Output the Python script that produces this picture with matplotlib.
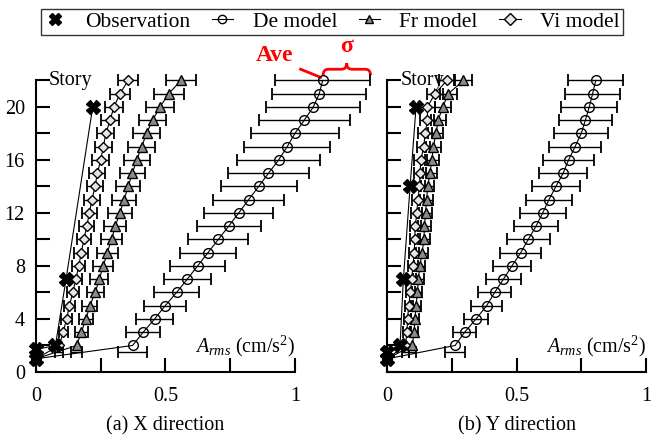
import numpy as np
import matplotlib
matplotlib.use("Agg")
from matplotlib import pyplot
from matplotlib.lines import Line2D
from matplotlib.path import Path
from matplotlib.patches import PathPatch

pyplot.rcParams['font.family'] = ['Liberation Serif', 'DejaVu Serif']
pyplot.rcParams['mathtext.fontset'] = 'custom'
pyplot.rcParams['mathtext.rm'] = 'Liberation Serif'
pyplot.rcParams['mathtext.it'] = 'Liberation Serif:italic'

# 階 (1..22) と標準偏差バーの位置 (2階分は1.5に描かれている)
stories = list(range(1, 23))
err_story = [1.5] + list(range(3, 23))

# (a) X方向
x_de = [0, 0.373, 0.414, 0.458, 0.499, 0.543, 0.584, 0.624, 0.664, 0.704, 0.744,
        0.783, 0.821, 0.860, 0.898, 0.937, 0.970, 1.000, 1.036, 1.071, 1.094, 1.107]
x_de_sd = [0.055, 0.066, 0.073, 0.081, 0.088, 0.091, 0.105, 0.108, 0.115, 0.124, 0.133,
           0.137, 0.147, 0.157, 0.159, 0.166, 0.169, 0.175, 0.182, 0.182, 0.183]
x_fr = [0, 0.157, 0.175, 0.193, 0.208, 0.229, 0.244, 0.260, 0.275, 0.292, 0.306,
        0.324, 0.340, 0.356, 0.372, 0.389, 0.408, 0.427, 0.450, 0.479, 0.512, 0.560]
x_fr_sd = [0.020, 0.024, 0.026, 0.029, 0.032, 0.035, 0.039, 0.040, 0.041, 0.043, 0.045,
           0.046, 0.047, 0.048, 0.050, 0.052, 0.053, 0.054, 0.055, 0.058, 0.059]
x_vi = [0, 0.090, 0.105, 0.118, 0.129, 0.142, 0.154, 0.165, 0.175, 0.185, 0.196,
        0.206, 0.216, 0.228, 0.237, 0.250, 0.260, 0.270, 0.286, 0.301, 0.324, 0.356]
x_vi_sd = [0.015, 0.018, 0.020, 0.022, 0.024, 0.025, 0.026, 0.027, 0.028, 0.029, 0.030,
           0.030, 0.031, 0.031, 0.032, 0.032, 0.033, 0.034, 0.036, 0.039, 0.038]
x_obs = [0, 0, 0.075, 0.116, 0.219]
x_obs_story = [1, 1.7, 2, 7, 20]

# (b) Y方向
y_de = [0, 0.262, 0.299, 0.343, 0.384, 0.415, 0.449, 0.482, 0.516, 0.545, 0.575,
        0.601, 0.625, 0.652, 0.680, 0.701, 0.726, 0.750, 0.766, 0.781, 0.794, 0.806]
y_de_sd = [0.039, 0.044, 0.047, 0.060, 0.063, 0.068, 0.073, 0.080, 0.084, 0.084, 0.089,
           0.088, 0.094, 0.094, 0.099, 0.099, 0.105, 0.103, 0.108, 0.108, 0.106]
y_fr = [0, 0.097, 0.103, 0.107, 0.111, 0.116, 0.120, 0.126, 0.134, 0.142, 0.143,
        0.148, 0.152, 0.156, 0.165, 0.172, 0.178, 0.188, 0.197, 0.214, 0.236, 0.294]
y_fr_sd = [0.015, 0.016, 0.017, 0.018, 0.019, 0.020, 0.021, 0.022, 0.023, 0.024, 0.024,
           0.025, 0.025, 0.026, 0.027, 0.028, 0.029, 0.030, 0.031, 0.033, 0.035]
y_vi = [0, 0.070, 0.076, 0.078, 0.083, 0.089, 0.094, 0.099, 0.104, 0.106, 0.108,
        0.114, 0.118, 0.124, 0.127, 0.129, 0.141, 0.146, 0.155, 0.155, 0.184, 0.230]
y_vi_sd = [0.013, 0.014, 0.015, 0.016, 0.017, 0.018, 0.019, 0.020, 0.020, 0.021, 0.021,
           0.022, 0.022, 0.023, 0.024, 0.025, 0.026, 0.027, 0.028, 0.030, 0.032]
y_obs = [0, 0, 0.049, 0.062, 0.088, 0.111]
y_obs_story = [1, 1.5, 2, 7, 14, 20]

panels = [
    ("(a) X direction", x_de, x_de_sd, x_fr, x_fr_sd, x_vi, x_vi_sd, x_obs, x_obs_story),
    ("(b) Y direction", y_de, y_de_sd, y_fr, y_fr_sd, y_vi, y_vi_sd, y_obs, y_obs_story),
]

fs = 14.5
fig = pyplot.figure(figsize=(6.51, 4.41), dpi=100)
ax_a = fig.add_axes([0.0553, 0.1565, 0.517, 0.679])
ax_b = fig.add_axes([0.595, 0.1565, 0.405, 0.679])
xmax = [1.3, 1.02]

styles = {
    "de": dict(marker="o", mfc="none", mec="black", ms=7),
    "fr": dict(marker="^", mfc="#8a8a8a", mec="black", ms=7.5),
    "vi": dict(marker="D", mfc="#e6e6e6", mec="black", ms=5.5),
}

for ax, xm, (caption, de, de_sd, fr, fr_sd, vi, vi_sd, obs, obs_st) in zip(
        [ax_a, ax_b], xmax, panels):
    for mean, sd, key in [(de, de_sd, "de"), (fr, fr_sd, "fr"), (vi, vi_sd, "vi")]:
        ax.errorbar(mean[1:], err_story, xerr=sd, fmt="none", ecolor="black",
                    elinewidth=1.0, capsize=4.5, capthick=1.3, clip_on=False, zorder=2)
        ax.plot(mean, stories, color="black", lw=0.8, mew=1.0, clip_on=False,
                zorder=3, **styles[key])
    ax.plot(obs, obs_st, color="black", lw=0.8, marker="X", ms=10, mfc="black",
            mec="black", clip_on=False, zorder=4)

    ax.set_xlim(0, xm)
    ax.set_ylim(0, 22.6)
    for s in ["top", "right"]:
        ax.spines[s].set_visible(False)
    ax.spines["left"].set_bounds(0, 22)
    ax.spines["bottom"].set_bounds(0, 1)
    ax.spines["left"].set_linewidth(1.5)
    ax.spines["bottom"].set_linewidth(1.5)
    ax.set_xticks([0, 0.5, 1], ["0", "0.5", "1"])
    ax.set_xticks([0.25, 0.75], minor=True)
    ax.set_yticks([0, 4, 8, 12, 16, 20])
    ax.set_yticks([2, 6, 10, 14, 18, 22], minor=True)
    ax.tick_params(which="both", direction="in", length=10, width=1.5, labelsize=fs)
    ax.tick_params(axis="x", pad=11)
    ax.tick_params(axis="y", pad=8)
    if ax is ax_b:
        ax.set_yticklabels([])

    ax.text(0.05, 22, "Story", fontsize=fs, ha="left", va="center", zorder=1)
    ax.text(1.0, 1.9, r"$A_{rms}$ (cm/s$^2$)", fontsize=fs, ha="right", va="center")
    ax.text(0.5, -4.1, caption, fontsize=fs, ha="center", va="center")

# 注記 (Ave と σ)
red = "#ff0000"
ax_a.text(0.92, 23.9, "Ave", color=red, fontsize=17, fontweight="bold",
          ha="center", va="center", clip_on=False)
ax_a.plot([1.022, 1.099], [22.85, 22.24], color=red, lw=2, clip_on=False)
x0, x1, xc = 1.109, 1.292, 1.2
yb, ym, yt = 22.4, 22.85, 23.3
verts = [(x0, yb), (x0, ym), (x0 + 0.02, ym),
         (xc - 0.02, ym), (xc, ym), (xc, yt),
         (xc, ym), (xc + 0.02, ym),
         (x1 - 0.02, ym), (x1, ym), (x1, yb)]
codes = [Path.MOVETO, Path.CURVE3, Path.CURVE3,
         Path.LINETO, Path.CURVE3, Path.CURVE3,
         Path.CURVE3, Path.CURVE3,
         Path.LINETO, Path.CURVE3, Path.CURVE3]
ax_a.add_patch(PathPatch(Path(verts, codes), fc="none", ec=red, lw=2, clip_on=False))
ax_a.text(xc, 24.6, "σ", color=red, fontsize=17, fontweight="bold",
          ha="center", va="center", clip_on=False)

handles = [
    Line2D([], [], ls="none", marker="X", ms=9, color="black"),
    Line2D([], [], color="black", lw=0.8, **styles["de"]),
    Line2D([], [], color="black", lw=0.8, **styles["fr"]),
    Line2D([], [], color="black", lw=0.8, **styles["vi"]),
]
leg = fig.legend(handles, ["Observation", "De model", "Fr model", "Vi model"],
                 loc="upper center", bbox_to_anchor=(0.51, 0.995), ncol=4, fontsize=15.5,
                 frameon=True, fancybox=False, edgecolor="black", handlelength=1.0,
                 handletextpad=0.9, columnspacing=1.0, borderpad=0.15,
                 borderaxespad=0.3)
leg.get_frame().set_linewidth(1.0)
for i, h in enumerate(leg.legend_handles):
    h.set_markersize(9 if i == 0 else 6)

fig.savefig("out.png", dpi=100)
